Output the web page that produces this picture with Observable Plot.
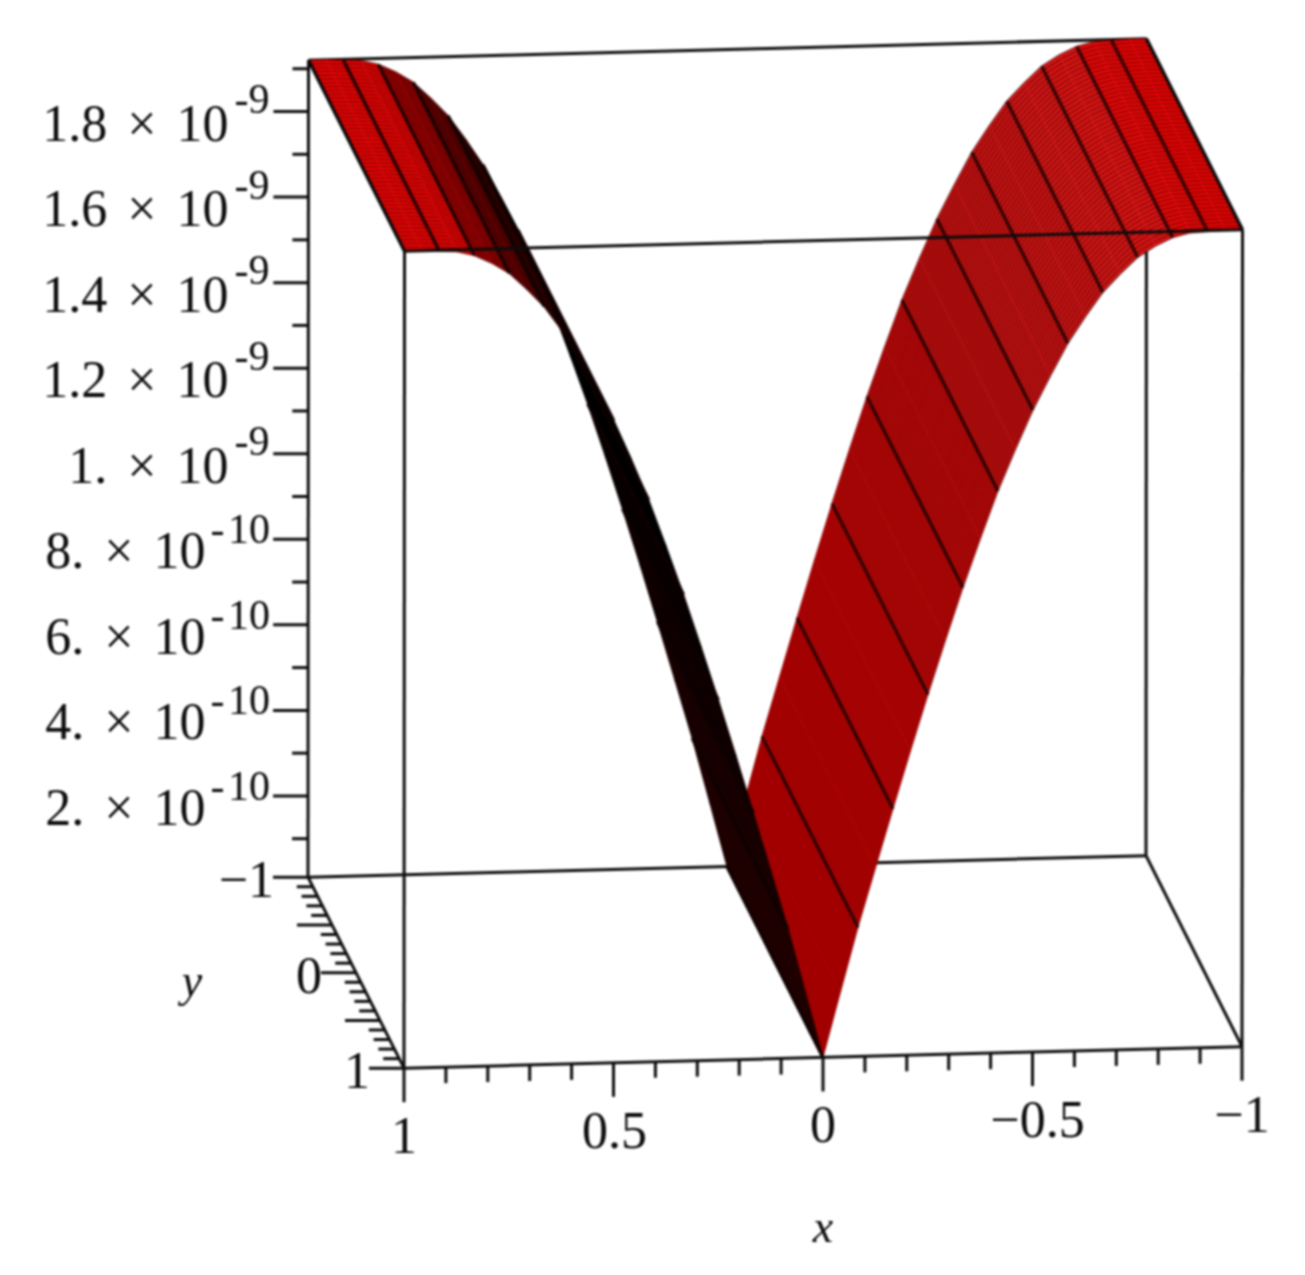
<!DOCTYPE html>
<html>
<head>
<meta charset="utf-8">
<script src="https://cdn.jsdelivr.net/npm/d3@7"></script>
<script src="https://cdn.jsdelivr.net/npm/@observablehq/plot@0.6"></script>
<style>
html,body{margin:0;padding:0;background:#fff;overflow:hidden}
#chart{filter:blur(0.8px)}
svg{display:block}
</style>
</head>
<body>
<div id="chart"></div>
<script>
// Data: surface z(x) on the x mesh
const xMesh = [-1,-0.9583,-0.9167,-0.875,-0.8333,-0.7917,-0.75,-0.7083,-0.6667,-0.625,-0.5833,-0.5417,-0.5,-0.4583,-0.4167,-0.375,-0.3333,-0.2917,-0.25,-0.2083,-0.1667,-0.125,-0.0833,-0.0417,0,
  0.0417,0.0833,0.125,0.1667,0.2083,0.25,0.2917,0.3333,0.375,0.4167,0.4583,0.5,0.5417,0.5833,0.625,0.6667,0.7083,0.75,0.7917,0.8333,0.875,0.9167,0.9583,1];
const zSurface = [1.92e-9,1.92e-9,1.918e-9,1.916e-9,1.906e-9,1.887e-9,1.862e-9,1.824e-9,1.782e-9,1.726e-9,1.665e-9,1.59e-9,1.511e-9,1.42e-9,1.324e-9,1.214e-9,1.1e-9,0.978e-9,0.852e-9,0.721e-9,0.587e-9,0.45e-9,0.312e-9,0.162e-9,0.01e-9,
  0.162e-9,0.312e-9,0.45e-9,0.587e-9,0.721e-9,0.852e-9,0.978e-9,1.1e-9,1.214e-9,1.324e-9,1.42e-9,1.511e-9,1.59e-9,1.665e-9,1.726e-9,1.782e-9,1.824e-9,1.862e-9,1.887e-9,1.906e-9,1.916e-9,1.918e-9,1.92e-9,1.92e-9];
const yMesh = [-1,-0.96,-0.92,-0.88,-0.84,-0.8,-0.76,-0.72,-0.68,-0.64,-0.6,-0.56,-0.52,-0.48,-0.44,-0.4,-0.36,-0.32,-0.28,-0.24,-0.2,-0.16,-0.12,-0.08,-0.04,0,0.04,0.08,0.12,0.16,0.2,0.24,0.28,0.32,0.36,0.4,0.44,0.48,0.52,0.56,0.6,0.64,0.68,0.72,0.76,0.8,0.84,0.88,0.92,0.96,1];

const zMajor = [2e-10,4e-10,6e-10,8e-10,1e-9,1.2e-9,1.4e-9,1.6e-9,1.8e-9];
const zMinor = [1e-10,3e-10,5e-10,7e-10,9e-10,1.1e-9,1.3e-9,1.5e-9,1.7e-9,1.9e-9];
const zNumbers = ["2.","4.","6.","8.","1.","1.2","1.4","1.6","1.8"];
const zExponents = ["-10","-10","-10","-10","-9","-9","-9","-9","-9"];
const xMajor = [1,0.5,0,-0.5,-1];
const xMajorLabels = ["1","0.5","0","−0.5","−1"];
const xMinor = [0.9,0.8,0.7,0.6,0.4,0.3,0.2,0.1,-0.1,-0.2,-0.3,-0.4,-0.6,-0.7,-0.8,-0.9];
const yMajor = [-1,-0.5,0,0.5,1];
const yMinor = [-0.9,-0.8,-0.7,-0.6,-0.4,-0.3,-0.2,-0.1,0.1,0.2,0.3,0.4,0.6,0.7,0.8,0.9];
const yLabelled = [-1,0,1];
const yLabels = ["−1","0","1"];

// Shading per band between two heavy mesh lines, listed from x = -1 to x = 1
const bandFill = ["#ee0404","#ec0808","#e41414","#de1616","#d61414","#d01212","#c40e0e","#ba0808","#b40606","#b00404","#aa0202","#a80000",
                  "#300000","#280000","#1a0000","#100000","#000000","#080000","#200000","#480000","#780000","#a80000","#ea0404","#ee0404"];
const bandStripe = [.38,.38,.4,.4,.38,.36,.3,.22,.16,.1,.08,.06,.2,.2,.2,.2,.2,.2,.25,.25,.3,.36,.38,.38];

// Orthographic view of the box
const zLow = 0.01e-9, zHigh = 1.92e-9;
const origin = [307.5, 876.7], ex = [838, -21.5], ey = [96, 191], ez = [0.5, -817];
function project(x, y, z) {
  const a = (1 - x) / 2, b = (y + 1) / 2, c = (z - zLow) / (zHigh - zLow);
  return [origin[0] + a * ex[0] + b * ey[0] + c * ez[0],
          origin[1] + a * ex[1] + b * ey[1] + c * ez[1]];
}
const seg = (p, q) => { const a = project(...p), b = project(...q); return {x1:a[0],y1:a[1],x2:b[0],y2:b[1]}; };
const lineOpts = {x1:"x1",y1:"y1",x2:"x2",y2:"y2"};
const ink = "#0c0c0c";
const W = 3;

const backEdges = [
  seg([1,-1,zLow],[-1,-1,zLow]), seg([1,-1,zLow],[1,-1,zHigh]),
  seg([-1,-1,zLow],[-1,-1,zHigh]), seg([1,-1,zHigh],[-1,-1,zHigh])
];
const frontEdges = [
  seg([1,-1,zHigh],[1,1,zHigh]), seg([-1,-1,zHigh],[-1,1,zHigh]),
  seg([1,1,zHigh],[-1,1,zHigh]), seg([1,1,zLow],[1,1,zHigh]), seg([-1,1,zLow],[-1,1,zHigh]),
  seg([1,-1,zLow],[1,1,zLow]), seg([-1,-1,zLow],[-1,1,zLow]), seg([1,1,zLow],[-1,1,zLow])
];

function facetMarks(i) {
  const band = Math.floor(i / 2);
  const corners = [[xMesh[i],-1,zSurface[i]],[xMesh[i+1],-1,zSurface[i+1]],[xMesh[i+1],1,zSurface[i+1]],[xMesh[i],1,zSurface[i]]].map(p => project(...p));
  const stripes = yMesh.map(y => seg([xMesh[i],y,zSurface[i]],[xMesh[i+1],y,zSurface[i+1]]));
  return [
    Plot.line(corners, {x:"0", y:"1", curve:"linear-closed", fill:bandFill[band], stroke:bandFill[band], strokeWidth:0.8}),
    Plot.link(stripes, {...lineOpts, stroke:"#000", strokeOpacity:bandStripe[band], strokeWidth:1.8})
  ];
}
const gridLine = i => seg([xMesh[i],-1,zSurface[i]],[xMesh[i],1,zSurface[i]]);
const rightIdx = d3.range(0,24), leftIdx = d3.range(24,48);
const rightGrid = d3.range(0,25,2).map(gridLine), leftGrid = d3.range(24,49,2).map(gridLine);

// Ticks
const zTick = (vals,len) => vals.map(z => { const p = project(1,-1,z); return {x1:p[0]-len,y1:p[1],x2:p[0],y2:p[1]}; });
const xTick = (vals,len) => vals.map(x => { const p = project(x,1,zLow); return {x1:p[0],y1:p[1],x2:p[0],y2:p[1]+len}; });
const yTick = (vals,len) => vals.map(y => { const p = project(1,y,zLow); return {x1:p[0]-len,y1:p[1],x2:p[0],y2:p[1]}; });
const ticks = [...zTick(zMajor,35),...zTick(zMinor,16),...xTick(xMajor,34),...xTick(xMinor,16),...yTick(yMajor,35),...yTick(yMinor,16)];

// Labels
const zRows = zMajor.map((z,i) => { const p = project(1,-1,z); const long = zExponents[i] === "-10";
  return {px:p[0],py:p[1],main:zNumbers[i]+" × 10",exp:long?"-\u200A10":"-9",long}; });
const xRows = xMajor.map((x,i) => { const p = project(x,1,zLow); return {px:p[0],py:p[1],label:xMajorLabels[i]}; });
const yRows = yLabelled.map((y,i) => { const p = project(1,y,zLow); return {px:p[0],py:p[1],label:yLabels[i]}; });
const font = "Liberation Serif";
const xName = project(0,1,zLow), yName = project(1,0,zLow);

const chart = Plot.plot({
  width:1305, height:1275, margin:0,
  style:{background:"#fff", wordSpacing:"7px"},
  x:{domain:[0,1305], range:[0,1305], axis:null},
  y:{domain:[0,1275], range:[0,1275], axis:null},
  marks:[
    Plot.link(backEdges, {...lineOpts, stroke:ink, strokeWidth:W}),
    ...rightIdx.flatMap(facetMarks),
    Plot.link(rightGrid, {...lineOpts, stroke:"#1a0000", strokeOpacity:0.85, strokeWidth:3.2}),
    ...leftIdx.flatMap(facetMarks),
    Plot.link(leftGrid, {...lineOpts, stroke:"#100000", strokeOpacity:0.9, strokeWidth:3.2}),
    Plot.link(frontEdges, {...lineOpts, stroke:ink, strokeWidth:W}),
    Plot.link(ticks, {...lineOpts, stroke:ink, strokeWidth:W}),
    Plot.text(zRows, {x:d => d.long ? 205 : 228, y:d => d.py + 29, text:"main", textAnchor:"end", lineAnchor:"bottom", fontFamily:font, fontSize:52, fill:ink}),
    Plot.text(zRows, {x:d => d.long ? 210 : 234, y:d => d.py + (d.long ? 4 : 1.5), text:"exp", textAnchor:"start", lineAnchor:"bottom", fontFamily:font, fontSize:42, fill:ink}),
    Plot.text(xRows, {x:d => d.px + (d.label === "−0.5" ? 5 : d.label === "0.5" ? 1 : 0), y:d => d.py + 85, text:"label", textAnchor:"middle", lineAnchor:"bottom", fontFamily:font, fontSize:52, fill:ink}),
    Plot.text(yRows, {x:"px", y:d => d.py + 20, dx:-34, text:"label", textAnchor:"end", lineAnchor:"bottom", fontFamily:font, fontSize:52, fill:ink}),
    Plot.text([{t:"x",px:xName[0],py:xName[1]}], {x:"px", y:d => d.py + 185, text:"t", textAnchor:"middle", lineAnchor:"bottom", fontFamily:font, fontStyle:"italic", fontSize:46, fill:ink}),
    Plot.text([{t:"y",px:yName[0],py:yName[1]}], {x:d => d.px - 164, y:d => d.py + 23, text:"t", textAnchor:"middle", lineAnchor:"bottom", fontFamily:font, fontStyle:"italic", fontSize:46, fill:ink})
  ]
});
document.getElementById("chart").appendChild(chart);
</script>
</body>
</html>
